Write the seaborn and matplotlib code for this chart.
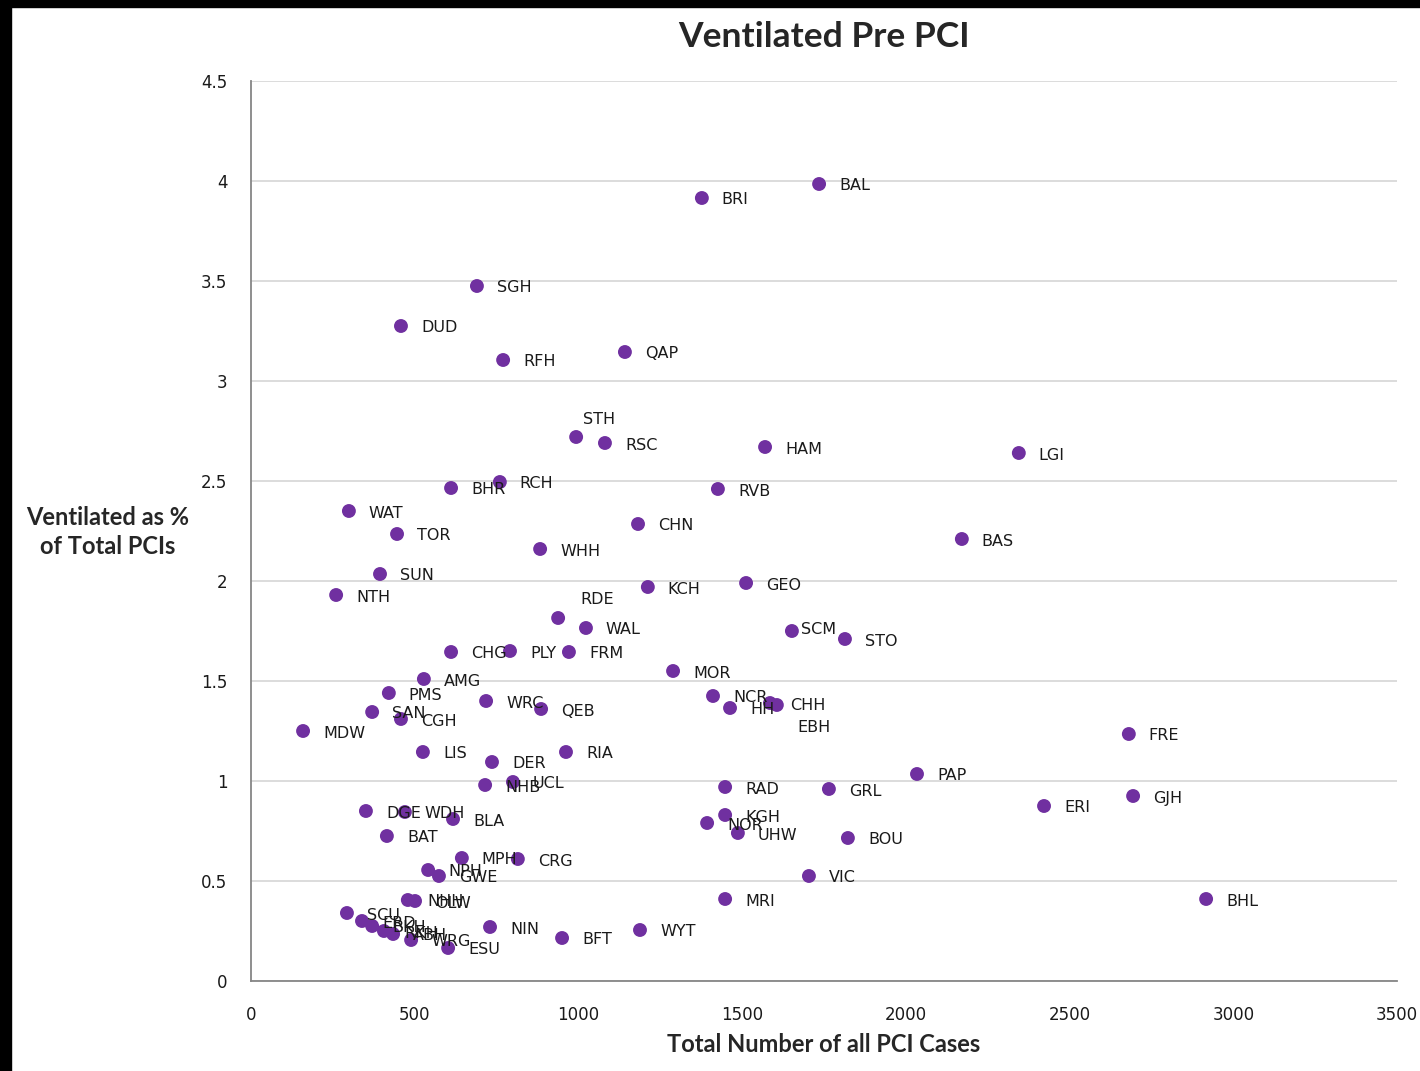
import matplotlib
matplotlib.use('Agg')
import matplotlib.pyplot as plt
from matplotlib.patches import Rectangle
import numpy as np
import pandas as pd
import seaborn as sns

# hospital codes, total PCI cases, ventilated pre-PCI (%)
codes = ['BAL', 'BRI', 'SGH', 'DUD', 'RFH', 'QAP', 'STH', 'RSC', 'HAM', 'LGI',
         'RCH', 'BHR', 'RVB', 'WAT', 'CHN', 'TOR', 'BAS', 'WHH', 'SUN', 'NTH',
         'KCH', 'GEO', 'RDE', 'WAL', 'SCM', 'STO', 'CHG', 'PLY', 'FRM', 'MOR',
         'AMG', 'PMS', 'WRC', 'QEB', 'SAN', 'CGH', 'MDW', 'NCR', 'HH', 'CHH',
         'EBH', 'FRE', 'LIS', 'RIA', 'DER', 'PAP', 'NHB', 'UCL', 'RAD', 'GRL',
         'GJH', 'ERI', 'DGE', 'WDH', 'BLA', 'KGH', 'NOR', 'UHW', 'BAT', 'BOU',
         'MPH', 'CRG', 'NPH', 'GWE', 'VIC', 'MRI', 'BHL', 'NHH', 'OLW', 'NIN',
         'BFT', 'WYT', 'ESU', 'SCU', 'ERD', 'BKH', 'RKH', 'ABH', 'WRG']
total_cases = [1735, 1377, 690, 458, 770, 1142, 993, 1081, 1570, 2345,
               760, 611, 1426, 299, 1182, 446, 2171, 883, 394, 260,
               1212, 1512, 938, 1023, 1652, 1814, 611, 791, 971, 1289,
               528, 421, 718, 886, 370, 458, 159, 1411, 1463, 1585,
               1606, 2681, 525, 962, 736, 2034, 715, 800, 1448, 1765,
               2694, 2422, 351, 470, 617, 1448, 1393, 1487, 415, 1823,
               644, 815, 541, 574, 1704, 1448, 2917, 479, 501, 730,
               950, 1188, 602, 293, 339, 370, 406, 434, 489]
ventilated_pct = [3.985, 3.915, 3.475, 3.275, 3.105, 3.145, 2.72, 2.69, 2.67, 2.64,
                  2.495, 2.465, 2.46, 2.35, 2.285, 2.235, 2.21, 2.16, 2.035, 1.93,
                  1.97, 1.99, 1.815, 1.765, 1.75, 1.71, 1.645, 1.65, 1.645, 1.55,
                  1.51, 1.44, 1.40, 1.36, 1.345, 1.31, 1.25, 1.425, 1.365, 1.39,
                  1.38, 1.235, 1.145, 1.145, 1.095, 1.035, 0.98, 0.995, 0.97, 0.96,
                  0.925, 0.875, 0.85, 0.845, 0.81, 0.83, 0.79, 0.74, 0.725, 0.715,
                  0.615, 0.61, 0.555, 0.525, 0.525, 0.41, 0.41, 0.405, 0.40, 0.27,
                  0.215, 0.255, 0.165, 0.34, 0.30, 0.275, 0.25, 0.235, 0.205]

x_ticks = [0, 500, 1000, 1500, 2000, 2500, 3000, 3500]
y_ticks = [0, 0.5, 1, 1.5, 2, 2.5, 3, 3.5, 4, 4.5]
y_tick_labels = ['0', '0.5', '1', '1.5', '2', '2.5', '3', '3.5', '4', '4.5']

df = pd.DataFrame({'code': codes, 'cases': total_cases, 'vent': ventilated_pct})

# labels that Excel had moved away from the default "right" spot (pixel offsets)
label_moves = {'STH': (7, 18), 'RDE': (22, 18), 'SCM': (9, 1), 'EBH': (21, -22)}

sns.set_style('white')
PURPLE = '#7030A0'
GREY = '#868686'
DPI = 100

fig = plt.figure(figsize=(14.2, 10.71), dpi=DPI)
ax = fig.add_axes([251 / 1420, 90 / 1071, 1146 / 1420, 900 / 1071])

sns.scatterplot(data=df, x='cases', y='vent', ax=ax, color=PURPLE, s=100,
                edgecolor='none', linewidth=0, zorder=3)

px = 72.0 / DPI
for c, xv, yv in zip(df['code'], df['cases'], df['vent']):
    dx, dy = label_moves.get(c, (20, -2))
    ax.annotate(c, (xv, yv), xytext=(dx * px, dy * px), textcoords='offset points',
                ha='left', va='center', fontsize=11.5, family='DejaVu Sans',
                color='#1a1a1a', zorder=4)

ax.set_xlim(0, 3500)
ax.set_ylim(0, 4.5)
ax.set_xticks(x_ticks)
ax.set_xticklabels([str(t) for t in x_ticks])
ax.set_yticks(y_ticks)
ax.set_yticklabels(y_tick_labels)
ax.yaxis.grid(True, color='#D9D9D9', linewidth=1.3)
ax.set_axisbelow(True)

for s in ['top', 'right']:
    ax.spines[s].set_visible(False)
for s in ['left', 'bottom']:
    ax.spines[s].set_color(GREY)
    ax.spines[s].set_linewidth(1.3)
ax.tick_params(axis='both', direction='out', length=6, width=1.3, color=GREY,
               labelsize=12, labelcolor='#1a1a1a')
ax.tick_params(axis='y', pad=11)
ax.tick_params(axis='x', pad=12)

ax.set_xlabel('Total Number of all PCI Cases', fontsize=17, fontweight='bold',
              family='Lato', va='center')
ax.xaxis.set_label_coords(0.5, -0.071)
ax.set_ylabel('Ventilated as %\nof Total PCIs', fontsize=17, fontweight='bold',
              family='Lato', rotation=0, ha='center', va='center', linespacing=1.3)
ax.yaxis.set_label_coords(-0.125, 0.499)
ax.text(0.5, 1.049, 'Ventilated Pre PCI', transform=ax.transAxes, ha='center',
        va='center', fontsize=25.5, fontweight='bold', family='Lato')

# black edges of the original screenshot
fig.patches.append(Rectangle((0, 0), 11 / 1420, 1, transform=fig.transFigure,
                             color='black', zorder=10))
fig.patches.append(Rectangle((0, 1 - 7 / 1071), 1, 7 / 1071, transform=fig.transFigure,
                             color='black', zorder=10))

fig.savefig('out.png', dpi=DPI)
